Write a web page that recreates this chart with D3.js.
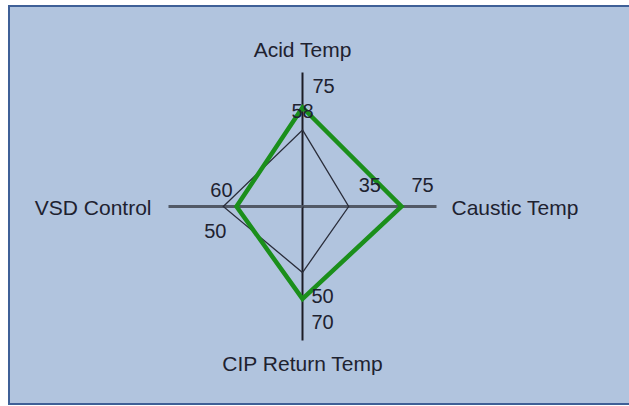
<!DOCTYPE html>
<html>
<head>
<meta charset="utf-8">
<script src="https://cdn.jsdelivr.net/npm/d3@7/dist/d3.min.js"></script>
<style>
  html, body { margin: 0; padding: 0; background: #ffffff; }
  svg { display: block; }
  text { font-family: "Liberation Sans", Arial, sans-serif; fill: #1e2230; }
</style>
</head>
<body>
<svg id="chart" width="629" height="406"></svg>
<script>
// Radar axes, clockwise from the top
const axes = ["Acid Temp", "Caustic Temp", "CIP Return Temp", "VSD Control"];

// Two series of readings (one value per axis, same order)
const setpointValues = [75, 75, 70, 50];   // thick green trace
const actualValues   = [58, 35, 50, 60];   // thin dark trace

// Where each value label sits relative to its point
const setpointLabelPos = ["ne", "ne", "se", "sw"];
const actualLabelPos   = ["n",  "ne", "se", "nw"];

const maxValue = 100;

const W = 629, H = 406;
const cx = 302.5, cy = 206.5;
const axisLen = 134;

const svg = d3.select("#chart");

// Panel background with its frame
svg.append("rect")
  .attr("x", 9).attr("y", 6).attr("width", W).attr("height", 398)
  .attr("fill", "#b1c4de")
  .attr("stroke", "#3f6097").attr("stroke-width", 2);

const r = d3.scaleLinear().domain([0, maxValue]).range([0, 132]);
const angle = d3.scalePoint().domain(axes).range([0, 2 * Math.PI * (axes.length - 1) / axes.length]);

const pt = (axis, v) => {
  const a = angle(axis);
  return [cx + r(v) * Math.sin(a), cy - r(v) * Math.cos(a)];
};

const g = svg.append("g");

// Axis spokes: horizontal pair drawn gray and heavier, vertical pair dark
axes.forEach(a => {
  const ang = angle(a);
  const horizontal = Math.abs(Math.sin(ang)) > 0.5;
  g.append("line")
    .attr("x1", cx).attr("y1", cy)
    .attr("x2", cx + axisLen * Math.sin(ang))
    .attr("y2", cy - axisLen * Math.cos(ang))
    .attr("stroke", horizontal ? "#525966" : "#1c1c26")
    .attr("stroke-width", horizontal ? 3 : 2);
});

// Axis titles at the spoke ends
axes.forEach(a => {
  const ang = angle(a);
  const sx = Math.sin(ang), sy = -Math.cos(ang);
  const t = g.append("text").text(a).style("font-size", "21px");
  if (Math.abs(sx) < 0.5) {
    t.attr("x", cx)
     .attr("y", sy < 0 ? cy - axisLen - 16 : cy + axisLen + 30)
     .attr("text-anchor", "middle");
  } else {
    t.attr("x", sx > 0 ? cx + axisLen + 15 : cx - axisLen - 17)
     .attr("y", cy + 8)
     .attr("text-anchor", sx > 0 ? "start" : "end");
  }
});

const line = d3.line().curve(d3.curveLinearClosed);

// Thin trace
g.append("path")
  .attr("d", line(axes.map((a, i) => pt(a, actualValues[i]))))
  .attr("fill", "none").attr("stroke", "#2a2d3a").attr("stroke-width", 1.3)
  .attr("stroke-linejoin", "miter");

// Thick trace
g.append("path")
  .attr("d", line(axes.map((a, i) => pt(a, setpointValues[i]))))
  .attr("fill", "none").attr("stroke", "#1b8f1b").attr("stroke-width", 4.5)
  .attr("stroke-linejoin", "miter");

// Value labels
const offsets = {
  ne: { dx: 10, dy: -15, anchor: "start" },
  se: { dx: 9, dy: 30, anchor: "start" },
  sw: { dx: -10, dy: 31, anchor: "end" },
  n:  { dx: -11, dy: -12, anchor: "start" },
  nw: { dx: -13, dy: -10, anchor: "start" }
};

function labels(values, positions) {
  axes.forEach((a, i) => {
    const [x, y] = pt(a, values[i]);
    const o = offsets[positions[i]];
    g.append("text")
      .attr("x", x + o.dx).attr("y", y + o.dy)
      .attr("text-anchor", o.anchor)
      .style("font-size", "20px")
      .text(values[i]);
  });
}
labels(setpointValues, setpointLabelPos);
labels(actualValues, actualLabelPos);
</script>
</body>
</html>
